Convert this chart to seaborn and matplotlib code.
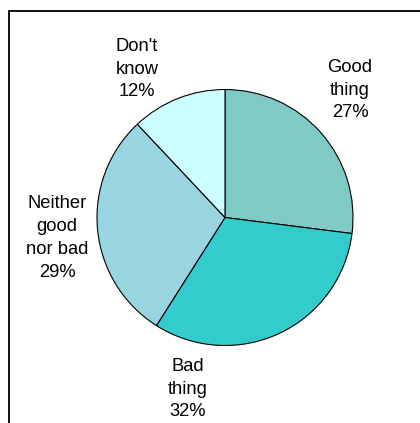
import matplotlib
matplotlib.use("Agg")
import matplotlib.pyplot as plt
import seaborn as sns
from matplotlib.patches import Rectangle

# Survey responses
categories = ["Good thing", "Bad thing", "Neither good nor bad", "Don't know"]
shares = [27, 32, 29, 12]
label_lines = ["Good\nthing", "Bad\nthing", "Neither\ngood\nnor bad", "Don't\nknow"]
colors = ["#7fcac4", "#33cccc", "#99d5e1", "#ccffff"]

sns.set_theme(style="white")
plt.rcParams["font.family"] = ["Liberation Sans", "DejaVu Sans"]

W, H = 420, 423
fig = plt.figure(figsize=(W / 100, H / 100), dpi=100)
ax = fig.add_axes([0, 0, 1, 1])

# Frame around the chart area (runs off the right and bottom edges)
fig.patches.append(Rectangle((8.5 / W, -0.1), 1.2, (H - 11) / H + 0.1,
                             transform=fig.transFigure, fill=False,
                             edgecolor="black", linewidth=1.3))

cx, cy, r = 225, H - 217.5, 128
ax.pie(shares, colors=colors, startangle=90, counterclock=False,
       center=(cx, cy), radius=r, frame=True,
       wedgeprops=dict(edgecolor="black", linewidth=0.8))
ax.set_xlim(0, W)
ax.set_ylim(0, H)
ax.set_aspect("equal")
ax.axis("off")

# Label anchor points (pixel layout, y measured from top)
label_pos = [(350, 90), (188, 389), (57, 238), (137, 69)]
for (x, y), txt, v in zip(label_pos, label_lines, shares):
    ax.text(x, H - y, f"{txt}\n{v}%", ha="center", va="center",
            fontsize=13.2, color="black", linespacing=1.45)

fig.savefig("out.png", dpi=100)
